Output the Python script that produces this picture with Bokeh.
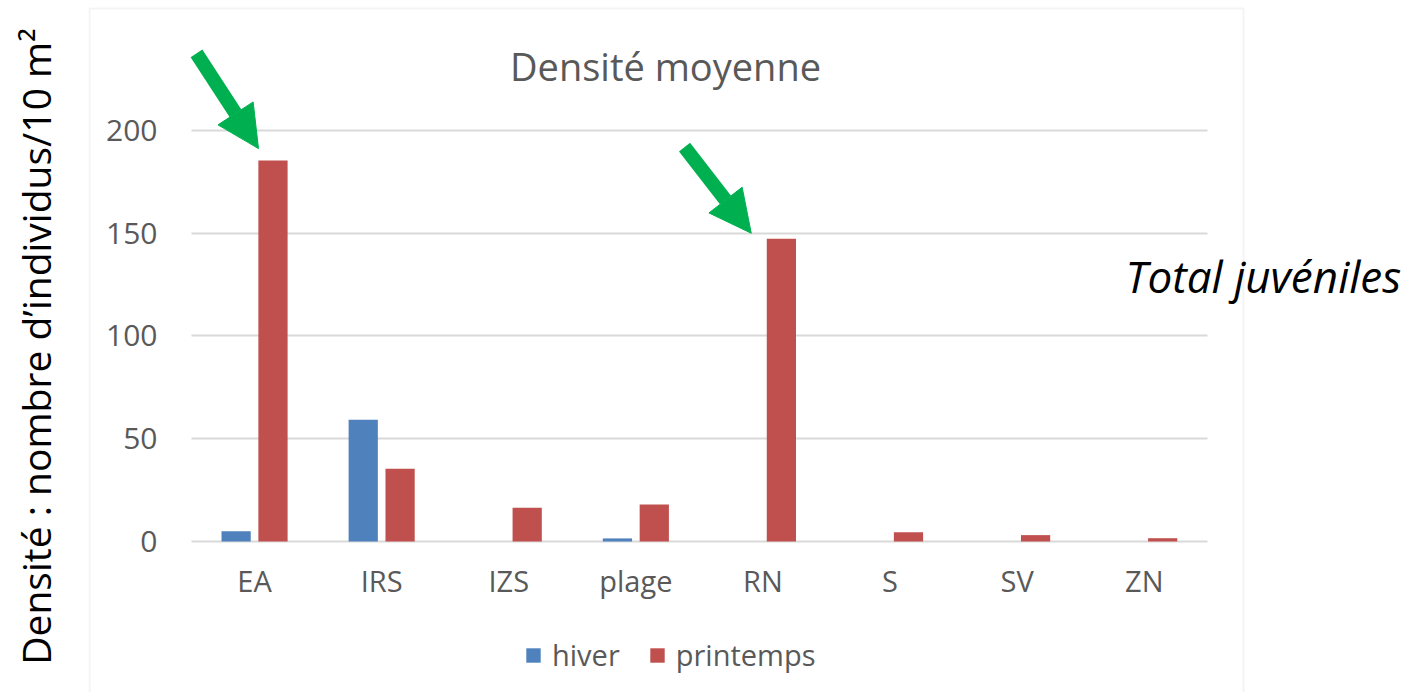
from bokeh.plotting import figure
from bokeh.models import (ColumnDataSource, Range1d, FixedTicker, Label, Grid,
                          Arrow, NormalHead, BoxAnnotation, Legend, LegendItem)
from bokeh.transform import dodge
from bokeh.embed import file_html
from bokeh.resources import INLINE

# ---- data ----
categories = ["EA", "IRS", "IZS", "plage", "RN", "S", "SV", "ZN"]
hiver = [5.0, 59.2, 0.0, 1.5, 0.0, 0.0, 0.0, 0.0]
printemps = [185.4, 35.4, 16.4, 18.0, 147.3, 4.5, 3.1, 1.6]
series_names = ["hiver", "printemps"]
y_ticks = [0, 50, 100, 150, 200]
chart_title = "Densité moyenne"
y_label = "Densité : nombre d’individus/10 m²"
note_text = "Total juvéniles"
highlighted = ["EA", "RN"]

# ---- style ----
BLUE = "#4f81bd"
RED = "#c0504d"
GREEN = "#00b050"
GRID = "#d9d9d9"
TXT = "#595959"
FONT = "Open Sans"

pos = list(range(len(categories)))
src = ColumnDataSource(dict(x=pos, cat=categories, hiver=hiver, printemps=printemps))

p = figure(x_range=Range1d(-1.3065, 9.0633), y_range=Range1d(-73.48, 263.26),
           width=1406, height=692, output_backend="svg", toolbar_location=None,
           min_border_left=88, min_border_right=0, min_border_top=0,
           min_border_bottom=0)
p.outline_line_color = None
p.background_fill_color = "white"
p.border_fill_color = "white"

# chart area border
p.add_layout(BoxAnnotation(left=-1.299, right=7.781, top=259.37, bottom=-200,
                           fill_alpha=0, line_color=GRID, line_width=2,
                           level="underlay"))

r1 = p.vbar(x=dodge("x", -0.145), top="hiver", width=0.23, source=src,
            fill_color=BLUE, line_color=None)
r2 = p.vbar(x=dodge("x", 0.145), top="printemps", width=0.23, source=src,
            fill_color=RED, line_color=None)

# grid limited to the plot area
p.xgrid.grid_line_color = None
p.ygrid.grid_line_color = None
ygrid = Grid(dimension=1, ticker=FixedTicker(ticks=y_ticks),
             grid_line_color=GRID, grid_line_width=2)
try:
    ygrid.cross_bounds = (-0.5, len(categories) - 0.5)
    p.add_layout(ygrid)
except Exception:
    p.segment(x0=[-0.5] * len(y_ticks), x1=[len(categories) - 0.5] * len(y_ticks),
              y0=y_ticks, y1=y_ticks, line_color=GRID, line_width=2,
              level="underlay")

p.xaxis.ticker = FixedTicker(ticks=pos)
p.xaxis.major_label_overrides = {i: c for i, c in zip(pos, categories)}
p.yaxis.ticker = FixedTicker(ticks=y_ticks)

for ax in (p.xaxis[0], p.yaxis[0]):
    ax.axis_line_color = None
    ax.major_tick_line_color = None
    ax.minor_tick_line_color = None
    ax.major_tick_out = 0
    ax.major_tick_in = 0
    ax.major_label_text_color = TXT
    ax.major_label_text_font = FONT

p.xaxis.major_label_text_font_size = "29px"
p.xaxis.major_label_standoff = -132
p.yaxis.major_label_text_font_size = "30px"
p.yaxis.major_label_standoff = -69

p.yaxis.axis_label = y_label
p.yaxis.axis_label_text_font = FONT
p.yaxis.axis_label_text_font_size = "39px"
p.yaxis.axis_label_text_font_style = "normal"
p.yaxis.axis_label_text_color = "#000000"
p.yaxis.axis_label_standoff = 41

# title and note
p.add_layout(Label(x=3.2333, y=231.6, text=chart_title, text_align="center",
                   text_baseline="alphabetic", text_font=FONT,
                   text_font_size="38px", text_color=TXT))
p.add_layout(Label(x=6.8524, y=129.4, text=note_text, text_align="left",
                   text_baseline="alphabetic", text_font=FONT,
                   text_font_size="44px", text_font_style="italic",
                   text_color="#000000"))

# green arrows pointing to highlighted printemps bars
arrow_offsets = {"EA": (-0.457, 52.1, 0.031, 5.8), "RN": (-0.617, 44.6, -0.092, 2.7)}
for c in highlighted:
    i = categories.index(c)
    v = printemps[i]
    dxs, dys, dxe, dye = arrow_offsets[c]
    p.add_layout(Arrow(end=NormalHead(size=42, fill_color=GREEN, line_color=GREEN),
                       x_start=i + dxs, y_start=v + dys,
                       x_end=i + dxe, y_end=v + dye,
                       line_color=GREEN, line_width=14))

legend = Legend(items=[LegendItem(label=series_names[0], renderers=[r1]),
                       LegendItem(label=series_names[1], renderers=[r2])],
                orientation="horizontal", location=(436, 18),
                glyph_width=18, glyph_height=18, label_standoff=10, spacing=28,
                padding=0, margin=0, border_line_color=None,
                background_fill_alpha=0, label_text_font=FONT,
                label_text_font_size="29px", label_text_color=TXT)
p.add_layout(legend, "center")

open("out.html", "w").write(file_html(p, INLINE))
